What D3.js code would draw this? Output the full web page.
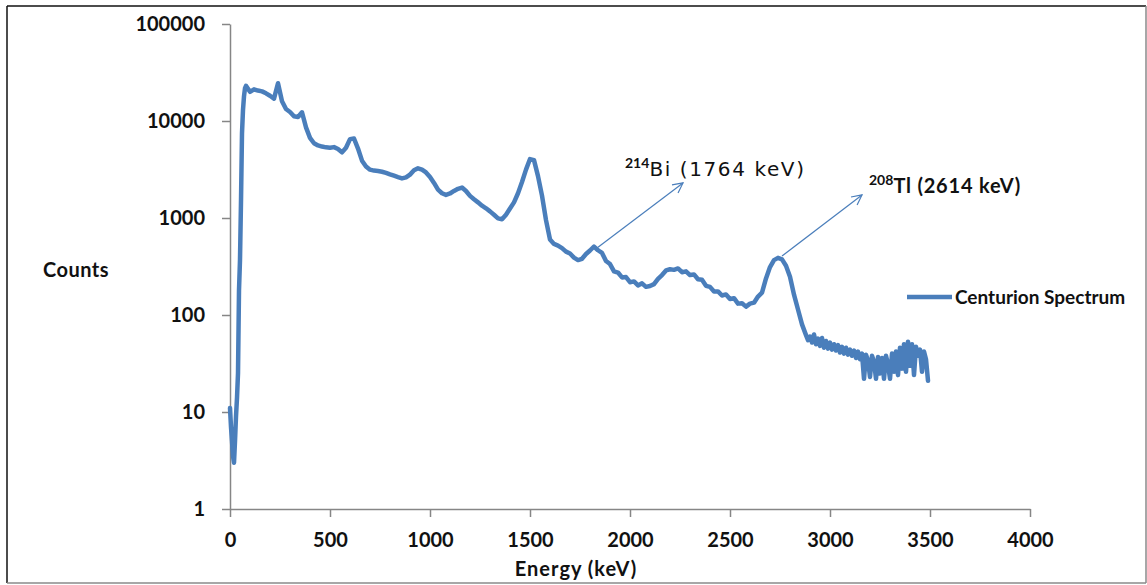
<!DOCTYPE html>
<html>
<head>
<meta charset="utf-8">
<script src="https://cdn.jsdelivr.net/npm/d3@7"></script>
<style>
  html, body { margin: 0; padding: 0; background: #fff; }
  svg { display: block; font-family: Lato, "Open Sans", sans-serif; }
</style>
</head>
<body>
<svg id="chart" width="1147" height="585"></svg>
<script>
// Gamma spectrum (Centurion detector), counts per channel vs energy.
const energyLowKeV = [0, 5, 10, 15, 20, 25, 30, 35, 40, 45, 50, 55, 60, 65, 70, 75, 80, 90];
const countsLow = [11, 7, 5, 3.5, 3, 5, 9, 14, 25, 180, 370, 1500, 7500, 13000, 18000, 21800, 23000, 21500];

// 20 keV channels, 100 - 2860 keV
const energyMainKeV = d3.range(100, 2880, 20);
const countsMain = [
  20000, 21200, 20600, 20200, 19300, 18200, 17000, 24500, 16000, 13300,
  12400, 11200, 11000, 12300, 8600, 6700, 5900, 5600, 5450, 5350,
  5300, 5380, 5150, 4750, 5300, 6500, 6600, 5200, 3900, 3400,
  3150, 3080, 3050, 3000, 2920, 2820, 2730, 2640, 2560, 2620,
  2800, 3100, 3250, 3150, 2950, 2650, 2300, 1960, 1800, 1730,
  1790, 1900, 2000, 2060, 1900, 1690, 1560, 1450, 1340, 1260,
  1170, 1080, 990, 970, 1080, 1250, 1450, 1800, 2350, 3150,
  4050, 3950, 2700, 1700, 950, 600, 540, 520, 490, 450,
  430, 390, 368, 380, 425, 462, 508, 465, 436, 360,
  335, 282, 274, 244, 246, 218, 222, 202, 212, 195,
  199, 208, 236, 258, 288, 296, 292, 302, 276, 282,
  258, 262, 234, 231, 200, 195, 175, 175, 159, 163,
  146, 149, 131, 132, 122, 131, 134, 155, 170, 238,
  312, 368, 388, 375, 322, 248, 162, 114, 80
];

// 10 keV channels, 2880 - 3490 keV (noisy high-energy tail)
const energyTailKeV = d3.range(2880, 3500, 10);
const countsTail = [
  62, 55, 60, 52, 63, 50, 57, 48, 58, 46,
  54, 45, 52, 44, 50, 43, 49, 41, 47, 40,
  46, 39, 44, 38, 43, 36, 42, 35, 40, 22,
  39, 34, 23, 38, 33, 22, 37, 25, 36, 22,
  38, 31, 22, 40, 26, 42, 24, 46, 28, 50,
  26, 53, 30, 50, 24, 47, 38, 44, 26, 42,
  35, 21
];

const xTicks = [0, 500, 1000, 1500, 2000, 2500, 3000, 3500, 4000];
const yTicks = [1, 10, 100, 1000, 10000, 100000];

const seriesName = "Centurion Spectrum";
const xTitle = "Energy (keV)";
const yTitle = "Counts";

// Peak annotations: arrow from the peak [keV, counts] to a point [keV, counts]
const annotations = [
  { mass: "214", element: "Bi", text: " (1764 keV)", from: [1840, 500], to: [2265, 2300], bold: false, dx: -58, dy: -7 },
  { mass: "208", element: "Tl", text: " (2614 keV)", from: [2760, 405], to: [3160, 1730], bold: true, dx: 7, dy: -2 }
];

const lineColor = "#4a7ebb";
const axisColor = "#868686";

const svg = d3.select("#chart");
const plot = { left: 230, right: 1030, top: 24, bottom: 509 };

// frame
svg.append("line").attr("x1", 7).attr("y1", 6).attr("x2", 1146).attr("y2", 6).attr("stroke", "#111").attr("stroke-width", 1.5);
svg.append("line").attr("x1", 7).attr("y1", 6).attr("x2", 7).attr("y2", 583).attr("stroke", "#111").attr("stroke-width", 1.5);
svg.append("line").attr("x1", 7).attr("y1", 583).attr("x2", 1146).attr("y2", 583).attr("stroke", "#8a8a8a").attr("stroke-width", 1.5);
svg.append("line").attr("x1", 1146).attr("y1", 6).attr("x2", 1146).attr("y2", 583).attr("stroke", "#8a8a8a").attr("stroke-width", 1.5);

const x = d3.scaleLinear().domain([0, 4000]).range([plot.left, plot.right]);
const y = d3.scaleLog().domain([1, 100000]).range([plot.bottom, plot.top]);

// axes
const yAxis = d3.axisLeft(y).tickValues(yTicks).tickFormat(d3.format("d")).tickSize(8).tickSizeOuter(0).tickPadding(17);
const xAxis = d3.axisBottom(x).tickValues(xTicks).tickFormat(d3.format("d")).tickSize(8).tickSizeOuter(0).tickPadding(16);

function styleAxis(g) {
  g.select(".domain").attr("stroke", axisColor).attr("stroke-width", 1.5);
  g.selectAll(".tick line").attr("stroke", axisColor).attr("stroke-width", 1.5);
  g.selectAll(".tick text")
    .attr("fill", "#111")
    .style("font-family", "Lato, sans-serif")
    .style("font-weight", "700")
    .style("font-size", "20px");
}

svg.append("g").attr("transform", `translate(${plot.left},0)`).call(yAxis).call(styleAxis);
svg.append("g").attr("transform", `translate(0,${plot.bottom})`).call(xAxis).call(styleAxis);

// axis titles
svg.append("text").attr("x", 76).attr("y", 277).attr("text-anchor", "middle")
  .attr("fill", "#111").style("font-weight", "700").style("font-size", "20px").style("letter-spacing", "0.5px")
  .text(yTitle);
svg.append("text").attr("x", 576).attr("y", 576).attr("text-anchor", "middle")
  .attr("fill", "#111").style("font-weight", "700").style("font-size", "20px").style("letter-spacing", "1px")
  .text(xTitle);

// spectrum
const data = energyLowKeV.map((e, i) => [e, countsLow[i]])
  .concat(energyMainKeV.map((e, i) => [e, countsMain[i]]))
  .concat(energyTailKeV.map((e, i) => [e, countsTail[i]]));

const line = d3.line().x(d => x(d[0])).y(d => y(d[1]));
svg.append("path").datum(data)
  .attr("d", line)
  .attr("fill", "none")
  .attr("stroke", lineColor)
  .attr("stroke-width", 4.5)
  .attr("stroke-linejoin", "round")
  .attr("stroke-linecap", "round");

// annotation arrows and labels
const defs = svg.append("defs");
defs.append("marker").attr("id", "arrowhead")
  .attr("viewBox", "0 0 12 12").attr("refX", 11).attr("refY", 6)
  .attr("markerWidth", 12).attr("markerHeight", 12).attr("markerUnits", "userSpaceOnUse")
  .attr("orient", "auto")
  .append("path").attr("d", "M1,1 L11,6 L1,11").attr("fill", "none")
  .attr("stroke", lineColor).attr("stroke-width", 1.2);

annotations.forEach(a => {
  const x1 = x(a.from[0]), y1 = y(a.from[1]);
  const x2 = x(a.to[0]), y2 = y(a.to[1]);
  svg.append("line").attr("x1", x1).attr("y1", y1).attr("x2", x2).attr("y2", y2)
    .attr("stroke", lineColor).attr("stroke-width", 1.2).attr("marker-end", "url(#arrowhead)");
  const t = svg.append("text").attr("x", x2 + a.dx).attr("y", y2 + a.dy).attr("fill", "#111")
    .style("font-family", a.bold ? "Lato, sans-serif" : "'DejaVu Sans', sans-serif")
    .style("font-weight", a.bold ? "700" : "400")
    .style("font-size", a.bold ? "20px" : "20px")
    .style("letter-spacing", a.bold ? "0.8px" : "1.6px");
  t.append("tspan").text(a.mass).attr("dy", -8)
    .style("font-family", "Lato, sans-serif").style("font-size", "14px").style("font-weight", "700").style("letter-spacing", "0px");
  t.append("tspan").text(a.element).attr("dy", 8);
  t.append("tspan").text(a.text);
});

// legend
const lg = svg.append("g");
lg.append("line").attr("x1", 907).attr("x2", 952).attr("y1", 297).attr("y2", 297)
  .attr("stroke", lineColor).attr("stroke-width", 4.5);
lg.append("text").attr("x", 955).attr("y", 304).attr("fill", "#111")
  .style("font-weight", "700").style("font-size", "19px")
  .text(seriesName);
</script>
</body>
</html>
